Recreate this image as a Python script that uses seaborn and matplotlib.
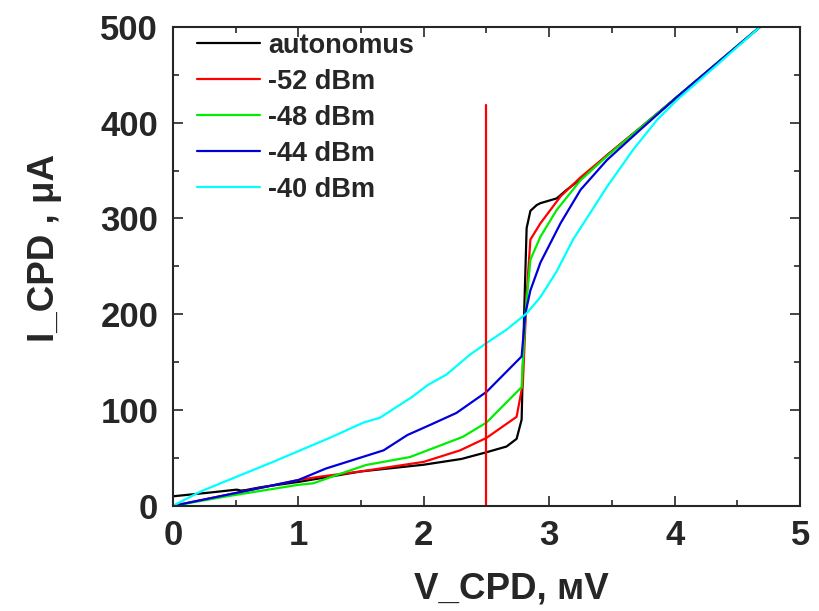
import numpy as np
import pandas as pd
import matplotlib
matplotlib.use('Agg')
import matplotlib.pyplot as plt
import seaborn as sns
from matplotlib.ticker import MultipleLocator

# данные
x_auto = [0, 0.3, 0.51, 0.54, 0.58, 0.7, 1.0, 1.5, 2.0, 2.3, 2.5, 2.66, 2.74, 2.78, 2.80, 2.82, 2.85, 2.90, 2.93, 3.06, 3.14, 3.27, 3.46, 3.72, 4.02, 4.3, 4.68]
y_auto = [10, 14, 17, 16, 16.5, 19.5, 25, 36, 43, 49, 56, 62, 70, 90, 200, 290, 308, 314, 316, 321, 330, 343, 366, 394, 427, 458, 500]

x_52 = [0, 0.43, 1.0, 1.17, 1.5, 2.0, 2.29, 2.5, 2.74, 2.79, 2.82, 2.85, 2.93, 3.09, 3.25, 3.46, 3.72, 4.02, 4.3, 4.68]
y_52 = [0, 11.5, 27, 30.5, 36, 46, 58, 71, 93, 128, 220, 278, 295, 323, 343, 366, 394, 427, 458, 500]

x_48 = [0, 0.43, 1.0, 1.12, 1.3, 1.54, 1.89, 2.03, 2.31, 2.5, 2.78, 2.81, 2.85, 2.93, 3.06, 3.25, 3.46, 3.72, 4.02, 4.3, 4.68]
y_48 = [0, 10, 22, 23.6, 32, 42.7, 51, 58, 72, 87, 124, 200, 257, 281, 309, 340, 365, 394, 427, 458, 500]

x_44 = [0, 0.43, 1.0, 1.22, 1.68, 1.87, 2.05, 2.26, 2.5, 2.78, 2.81, 2.85, 2.93, 3.09, 3.25, 3.46, 3.72, 4.02, 4.3, 4.68]
y_44 = [0, 11.5, 27, 39, 58, 74, 84.5, 97, 119, 156, 201, 225, 254, 295, 330, 361, 392, 427, 458, 500]

x_40 = [0, 0.22, 0.8, 1.25, 1.52, 1.65, 1.91, 2.03, 2.18, 2.37, 2.5, 2.66, 2.82, 2.93, 3.06, 3.19, 3.46, 3.67, 3.86, 4.02, 4.3, 4.68]
y_40 = [0, 15, 46, 71, 87, 92, 114, 126, 137, 158, 170, 184, 201, 218, 245, 278, 333, 372, 403, 424, 456, 500]

labels = ['autonomus', '-52 dBm', '-48 dBm', '-44 dBm', '-40 dBm']
colors = ['black', 'red', '#00ee00', '#0000dd', 'cyan']

# вертикальная линия
vline_x = [2.5, 2.5]
vline_y = [0, 418]

sns.set_style('ticks')
plt.rcParams['font.family'] = ['Liberation Sans', 'DejaVu Sans']
plt.rcParams['font.weight'] = 'bold'

fig = plt.figure(figsize=(8.19, 6.11), dpi=100)
ax = fig.add_axes([0.211, 0.172, 0.766, 0.784])

series = [(x_auto, y_auto), (x_52, y_52), (x_48, y_48), (x_44, y_44), (x_40, y_40)]
for (xs, ys), lab, col in zip(series, labels, colors):
    sns.lineplot(x=xs, y=ys, ax=ax, color=col, label=lab, lw=1.6,
                 estimator=None, sort=False)

sns.lineplot(x=vline_x, y=vline_y, ax=ax, color='red', lw=1.6,
             estimator=None, sort=False)

ax.set_xlim(0, 5)
ax.set_ylim(0, 500)
ax.xaxis.set_major_locator(MultipleLocator(1))
ax.xaxis.set_minor_locator(MultipleLocator(0.5))
ax.yaxis.set_major_locator(MultipleLocator(100))
ax.yaxis.set_minor_locator(MultipleLocator(50))
ax.tick_params(which='both', direction='in', top=True, right=True, width=1.2,
               labelsize=25)
ax.tick_params(axis='x', pad=9.5)
ax.tick_params(axis='y', pad=10.5)
ax.tick_params(which='major', length=7)
ax.tick_params(which='minor', length=4)
for sp in ax.spines.values():
    sp.set_linewidth(1.5)
for t in ax.get_xticklabels() + ax.get_yticklabels():
    t.set_fontweight('bold')

ax.set_xlabel('V_CPD, мV', fontsize=26.5, fontweight='bold')
ax.set_ylabel('I_CPD , μA', fontsize=26.5, fontweight='bold')
ax.xaxis.set_label_coords(0.539, -0.137)
ax.yaxis.set_label_coords(-0.177, 0.539)

leg = ax.legend(loc='upper left', bbox_to_anchor=(0.038, 0.988), frameon=False,
                prop={'size': 19.5, 'weight': 'bold'},
                handlelength=2.33, handletextpad=0.3, labelspacing=0.37,
                borderaxespad=0, borderpad=0)

plt.savefig('out.png', dpi=100)
